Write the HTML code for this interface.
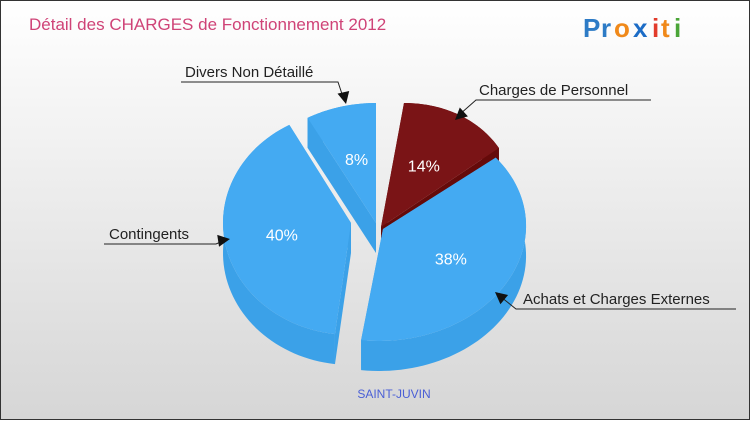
<!DOCTYPE html>
<html><head><meta charset="utf-8"><style>
body{margin:0;width:750px;height:420px;overflow:hidden;font-family:"Liberation Sans",sans-serif}
#wrap{position:relative;width:748px;height:418px;border:1px solid #333;background:linear-gradient(#ffffff,#d6d6d6)}
svg{position:absolute;left:0;top:0}
</style></head><body>
<div id="wrap">
<svg id="chart" width="750" height="420">
<text x="28" y="29" font-size="17" fill="#cf4377">Détail des CHARGES de Fonctionnement 2012</text>
<g font-size="26" font-weight="bold" font-family="'Liberation Sans',sans-serif">
<text x="582" y="36" fill="#2d7bc6">P</text><text x="600" y="36" fill="#2d7bc6">r</text><text x="613" y="36" fill="#f0891a">o</text><text x="632" y="36" fill="#1c6cc6">x</text><text x="651" y="36" fill="#e23b2b">i</text><text x="660" y="36" fill="#f0891a">t</text><text x="673" y="36" fill="#4aa537">i</text>
</g>
<text x="393" y="397" font-size="12" fill="#4a5fd6" text-anchor="middle">SAINT-JUVIN</text>
<g id="slices"></g>
<g id="labels" font-size="15" fill="#222"></g>
</svg>
</div>
<script>
const categories=["Charges de Personnel","Achats et Charges Externes","Contingents","Divers Non Détaillé"];
const values=[14,38,40,8];
const pctLabels=["14%","38%","40%","8%"];
const NS="http://www.w3.org/2000/svg";
const depth=30;
// per-slice projection geometry: apex x, apex y, rx, ry, shear
const geom=[[380,226,134,124,23],[382,228,143,112,4],[350,222,128,112,0],[375,222,142,120,0]];
const tops=["#7a1416","#44aaf2","#44aaf2","#44aaf2"];
const sides=["#650a0a","#3ba1e8","#3ba1e8","#3ba1e8"];
const total=values.reduce((a,b)=>a+b,0);
function pt(G,th,dy){return [G[0]+G[2]*Math.sin(th)+G[4]*Math.cos(th),G[1]-G[3]*Math.cos(th)+(dy||0)];}
const g=document.getElementById('slices');
let acc=0;const sl=[];
values.forEach((v,i)=>{const a1=acc/total*2*Math.PI;acc+=v;const a2=acc/total*2*Math.PI;sl.push({i,a1,a2});});
const order=[3,0,2,1];
order.forEach(i=>{
 const s=sl[i],G=geom[i],a=[G[0],G[1]];
 const N=60,top=[],bot=[];
 for(let j=0;j<=N;j++){const th=s.a1+(s.a2-s.a1)*j/N;top.push(pt(G,th));bot.push(pt(G,th,depth));}
 const mk=(d,fill,name)=>{const p=document.createElementNS(NS,'path');p.setAttribute('d',d);p.setAttribute('fill',fill);
 
 
 g.appendChild(p);};
 mk('M'+top.map(p=>p.join(',')).join('L')+'L'+bot.slice().reverse().map(p=>p.join(',')).join('L')+'Z',sides[i],'slice-wall-'+i);
 [top[0],top[N]].forEach(e=>{
  mk(`M${a[0]},${a[1]}L${e[0]},${e[1]}L${e[0]},${e[1]+depth}L${a[0]},${a[1]+depth}Z`,sides[i],'slice-cut-face-'+i);
 });
 mk(`M${a[0]},${a[1]}L`+top.map(p=>p.join(',')).join('L')+'Z',tops[i],'slice-'+i);
 const mid=(s.a1+s.a2)/2,lp=pt(G,mid);
 const t=document.createElementNS(NS,'text');
 t.setAttribute('x',a[0]+(lp[0]-a[0])*0.55);t.setAttribute('y',a[1]+(lp[1]-a[1])*0.55+6);
 t.setAttribute('fill','#fff');t.setAttribute('font-size','16');t.setAttribute('text-anchor','middle');
 t.textContent=pctLabels[i];
 
 
 g.appendChild(t);
});
const L=document.getElementById('labels');
const leaders=[
 {tx:478,ty:94,pts:"650,99 475,99 458,114",arrow:[454,119,2.4]},
 {tx:522,ty:303,pts:"735,308 515,308 500,296",arrow:[494,291,-2.45]},
 {tx:108,ty:238,pts:"103,243 215,243 222,240",arrow:[229,238,-0.15]},
 {tx:184,ty:76,pts:"180,81 337,81 342,96",arrow:[345,103,1.35]}
];
leaders.forEach((d,i)=>{
 const t=document.createElementNS(NS,'text');t.setAttribute('x',d.tx);t.setAttribute('y',d.ty);t.textContent=categories[i];
 
 
 L.appendChild(t);
 const pl=document.createElementNS(NS,'polyline');pl.setAttribute('points',d.pts);pl.setAttribute('fill','none');pl.setAttribute('stroke','#222');
 
 
 L.appendChild(pl);
 const [x,y,ang]=d.arrow;const c=Math.cos(ang),s=Math.sin(ang);
 const p=[[0,0],[-12,-6],[-12,6]].map(([u,v])=>[x+u*c-v*s,y+u*s+v*c]);
 const ar=document.createElementNS(NS,'polygon');ar.setAttribute('points',p.map(q=>q.join(',')).join(' '));ar.setAttribute('fill','#111');
 
 
 L.appendChild(ar);
});
</script>
</body></html>
